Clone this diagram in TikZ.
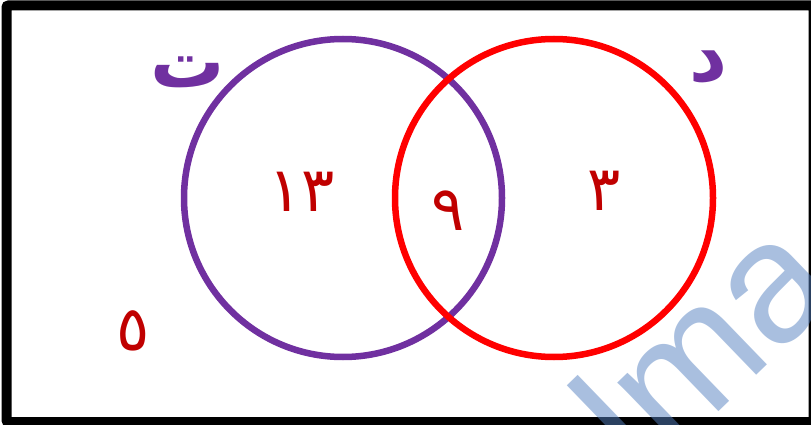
\documentclass[tikz,border=0pt]{standalone}
\usepackage{fontspec}
\setsansfont{Liberation Sans}
\newfontfamily\arabicfont[Script=Arabic]{DejaVu Sans}
\definecolor{setpurple}{RGB}{112,48,160}
\definecolor{setred}{RGB}{255,0,0}
\definecolor{numred}{RGB}{192,0,0}
\definecolor{markblue}{RGB}{84,128,192}
\begin{document}
\begin{tikzpicture}[x=1pt,y=-1pt,
  setline/.style={line width=6.5pt},
  setname/.style={text=setpurple,inner sep=0pt,font=\arabicfont\bfseries\fontsize{74}{76}\selectfont},
  count/.style={text=numred,inner sep=0pt,font=\arabicfont\fontsize{62}{64}\selectfont}]
  \useasboundingbox (0,0) rectangle (811,425);
  % universe and the two sets
  \draw[line width=10pt,rounded corners=2pt] (6.5,5.5) rectangle (813.5,422);
  \draw[setline,setpurple] (343,198) circle (159);
  \draw[setline,setred] (554,198) circle (159);
  % set names
  \node[setname] (nameT) at (188,72) {ت};
  \node[setname] (nameD) at (708,67) {د};
  % counts
  \node[count] (onlyT) at (302,192) {١٣};
  \node[count] (both) at (448,211) {٩};
  \node[count] (onlyD) at (604,191) {٣};
  \node[count] (outside) at (133,331) {٥};
  % watermark
  \begin{scope}
    \clip (0,0) rectangle (811,425);
    \node[rotate=44,inner sep=0pt,text=markblue,opacity=.5,
      font=\sffamily\fontsize{172}{172}\selectfont] (mark) at (702,343) {lma};
  \end{scope}
\end{tikzpicture}
\end{document}
